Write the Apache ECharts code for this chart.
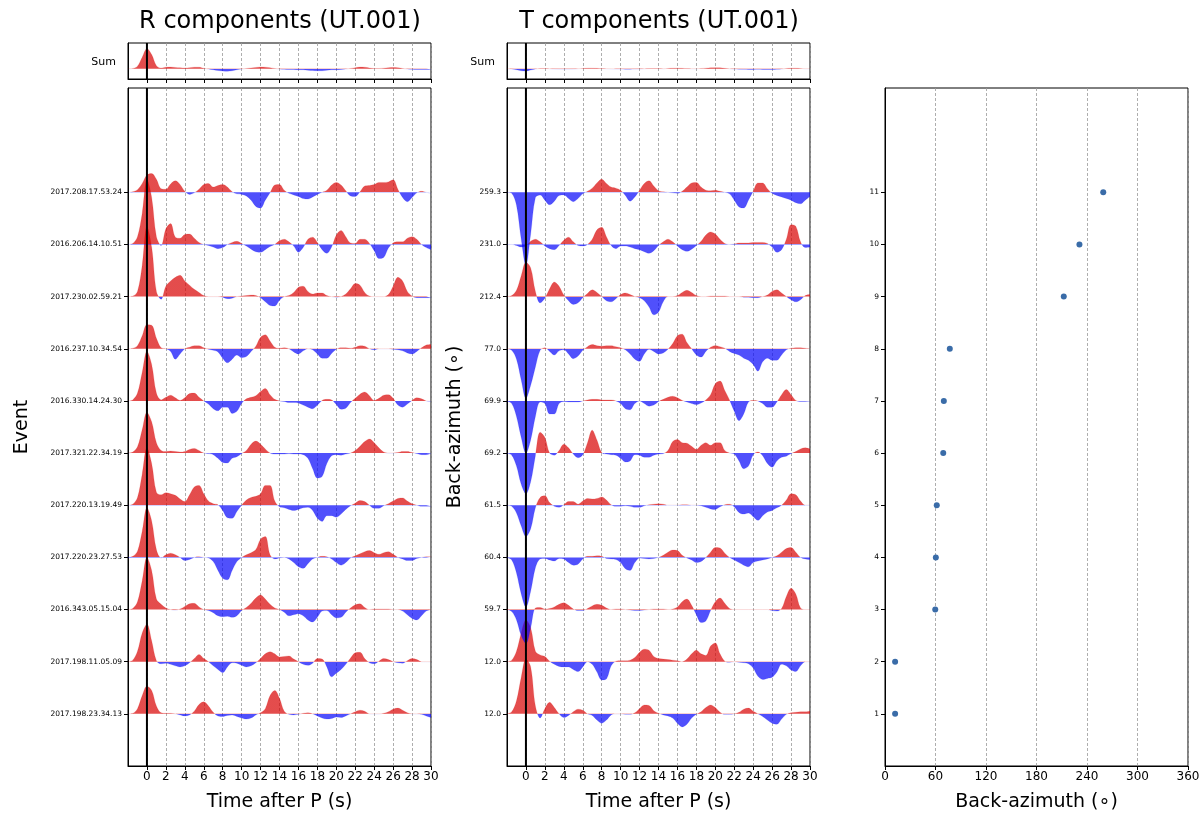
<!DOCTYPE html>
<html>
<head>
<meta charset="utf-8">
<title>R / T components (UT.001)</title>
<script src="https://cdn.jsdelivr.net/npm/echarts@6.0.0/dist/echarts.min.js"></script>
<style>
  html, body { margin: 0; padding: 0; background: #fff; }
  #chart { width: 1203px; height: 818px; }
</style>
</head>
<body>
<div id="chart"></div>
<script>
// sample times (s after P), every 0.5 s
const times = [-2,-1.5,-1,-0.5,0,0.5,1,1.5,2,2.5,3,3.5,4,4.5,5,5.5,6,6.5,7,7.5,8,8.5,9,9.5,10,10.5,11,11.5,12,12.5,13,13.5,14,14.5,15,15.5,16,16.5,17,17.5,18,18.5,19,19.5,20,20.5,21,21.5,22,22.5,23,23.5,24,24.5,25,25.5,26,26.5,27,27.5,28,28.5,29,29.5,30];

// events, bottom (1) to top (11)
const events = ["2017.198.23.34.13","2017.198.11.05.09","2016.343.05.15.04","2017.220.23.27.53","2017.220.13.19.49","2017.321.22.34.19","2016.330.14.24.30","2016.237.10.34.54","2017.230.02.59.21","2016.206.14.10.51","2017.208.17.53.24"];
const baz = [12.0, 12.0, 59.7, 60.4, 61.5, 69.2, 69.9, 77.0, 212.4, 231.0, 259.3];
const bazLabels = ["12.0","12.0","59.7","60.4","61.5","69.2","69.9","77.0","212.4","231.0","259.3"];

// R component traces (amplitude in units of trace spacing)
const r01 = [0,0.01,0.1,0.35,0.53,0.45,0.15,0.02,0.01,0.01,0,-0.02,-0.04,-0.02,0.05,0.18,0.23,0.15,0.03,-0.04,-0.05,-0.03,-0.02,-0.05,-0.08,-0.1,-0.08,-0.02,0.02,0.1,0.35,0.45,0.3,0.05,-0.01,-0.02,-0.01,0.01,0.02,0,-0.04,-0.08,-0.1,-0.09,-0.06,-0.07,-0.04,0,0.04,0.07,0.05,0,0,0,0.01,0.04,0.09,0.11,0.07,0.02,0,0,-0.01,-0.04,-0.07];
const r02 = [0,0.03,0.2,0.55,0.72,0.4,0.02,-0.04,-0.03,-0.05,-0.08,-0.1,-0.08,-0.02,0.06,0.14,0.06,0,-0.08,-0.15,-0.21,-0.1,-0.02,-0.03,-0.07,-0.1,-0.08,-0.02,0.06,0.15,0.19,0.15,0.09,0.1,0.11,0.05,0,-0.05,-0.07,-0.03,0.06,0.05,-0.1,-0.29,-0.22,-0.15,-0.05,0.07,0.17,0.18,0.06,-0.02,-0.04,0.01,0.06,0.04,0,-0.02,-0.03,0.02,0.06,0.04,0,0,0];
const r03 = [0,0.02,0.15,0.55,1.0,0.75,0.2,0.1,0.03,0,-0.01,0.01,0.06,0.11,0.12,0.05,0,-0.02,-0.06,-0.12,-0.14,-0.13,-0.15,-0.12,-0.02,0.04,0.12,0.22,0.28,0.2,0.1,0.03,0,-0.05,-0.12,-0.1,-0.08,-0.12,-0.2,-0.24,-0.15,-0.03,-0.02,-0.1,-0.16,-0.15,-0.05,0.03,0.09,0.11,0.04,0,0.01,0.01,0.01,0.01,0,0,-0.03,-0.1,-0.17,-0.2,-0.12,-0.03,0];
const r04 = [0,0.02,0.12,0.5,0.95,0.7,0.15,-0.01,0.05,0.08,0.05,0,-0.06,-0.04,0,0.01,0,-0.01,-0.08,-0.25,-0.4,-0.43,-0.25,-0.08,0,0.05,0.09,0.15,0.35,0.4,0.05,-0.03,-0.01,0,-0.03,-0.1,-0.18,-0.21,-0.12,-0.03,0,0.02,0.01,-0.03,-0.1,-0.15,-0.1,-0.01,0.03,0.07,0.11,0.13,0.09,0.06,0.09,0.11,0.06,0,-0.03,-0.06,-0.06,-0.02,0,0.01,0.01];
const r05 = [0,0.02,0.15,0.6,1.1,0.8,0.25,0.2,0.24,0.22,0.19,0.12,0.07,0.2,0.35,0.38,0.22,0.08,0.03,0.01,-0.1,-0.24,-0.25,-0.12,0,0.1,0.15,0.17,0.22,0.38,0.38,0.08,-0.03,-0.05,-0.08,-0.1,-0.08,-0.05,-0.04,-0.1,-0.25,-0.31,-0.2,-0.2,-0.23,-0.17,-0.08,-0.01,0.04,0.09,0.07,0,-0.06,-0.06,-0.01,0.03,0.08,0.13,0.14,0.08,0.03,0,-0.02,-0.02,-0.02];
const r06 = [0,0.02,0.12,0.45,0.78,0.6,0.2,0.05,0.03,0.04,0.03,0.02,0.03,0.07,0.09,0.05,0,-0.01,-0.03,-0.1,-0.18,-0.19,-0.1,-0.07,-0.01,0.05,0.17,0.23,0.17,0.08,0,-0.02,-0.02,-0.02,-0.01,-0.02,-0.02,-0.03,-0.1,-0.3,-0.48,-0.45,-0.2,-0.05,-0.03,-0.04,-0.02,0,0.05,0.13,0.22,0.27,0.2,0.1,0.02,0,0,0.01,0.03,0.03,0.01,-0.01,-0.03,-0.03,-0.01];
const r07 = [0,0.02,0.15,0.55,0.95,0.7,0.15,0.02,0.07,0.11,0.06,0.01,0.06,0.14,0.15,0.07,0,-0.06,-0.15,-0.19,-0.12,-0.12,-0.24,-0.2,-0.05,0.04,0.07,0.1,0.18,0.24,0.12,0.03,0,-0.01,-0.03,-0.03,-0.04,-0.08,-0.12,-0.15,-0.08,0.01,0.03,0.02,-0.07,-0.16,-0.14,-0.03,0.05,0.13,0.17,0.1,0.01,0.05,0.11,0.12,0.05,-0.08,-0.12,-0.06,0.01,0.06,0.04,0,-0.01];
const r08 = [0,0.01,0.06,0.25,0.46,0.45,0.2,0.02,0,-0.05,-0.2,-0.1,0,0.03,0.06,0.06,0.02,-0.01,-0.03,-0.06,-0.18,-0.27,-0.2,-0.12,-0.17,-0.15,-0.05,0.05,0.22,0.27,0.15,0.03,0.01,0.02,0,-0.06,-0.1,-0.04,0,-0.02,-0.1,-0.18,-0.18,-0.09,-0.01,0.02,0.02,0.01,0.03,0.06,0.05,0,-0.02,0,0,0,-0.01,-0.02,-0.04,-0.08,-0.1,-0.05,0.02,0.07,0.08];
const r09 = [0,0.01,0.1,0.6,1.35,0.95,0.1,-0.05,0.2,0.3,0.37,0.41,0.3,0.22,0.14,0.08,0.02,0,0,0,-0.01,-0.04,-0.03,0,0.01,0.02,0.03,0.02,-0.02,-0.1,-0.17,-0.18,-0.07,0,0.02,0.08,0.18,0.2,0.1,0.05,0.07,0.07,0.02,0,-0.01,0,0.05,0.15,0.25,0.22,0.08,0.01,0,0,0,0.04,0.2,0.37,0.3,0.1,0.01,-0.02,-0.02,-0.02,-0.02];
const r10 = [0,0.02,0.15,0.6,1.25,0.9,0.15,-0.02,0.3,0.4,0.14,0.12,0.19,0.2,0.12,0.04,0,-0.02,-0.05,-0.08,-0.06,0,0.04,0.06,0.02,-0.03,-0.09,-0.14,-0.15,-0.1,-0.04,0,0.07,0.1,0.05,-0.03,-0.15,-0.06,0.1,0.14,0.04,-0.1,-0.17,-0.05,0.18,0.27,0.15,0.03,0.02,0.1,0.1,0.02,-0.12,-0.27,-0.25,-0.07,0.03,0.05,0.05,0.12,0.15,0.1,0,-0.06,-0.1];
const r11 = [0,0.01,0.05,0.17,0.33,0.36,0.25,0.07,0.06,0.16,0.22,0.15,0.02,-0.04,-0.01,0.06,0.15,0.17,0.1,0.13,0.15,0.1,0.01,-0.03,-0.04,-0.07,-0.15,-0.27,-0.3,-0.15,-0.01,0.14,0.15,0.04,-0.02,-0.05,-0.08,-0.12,-0.13,-0.09,-0.04,0,0.04,0.14,0.19,0.14,0.03,-0.07,-0.08,0.01,0.12,0.13,0.15,0.19,0.19,0.2,0.24,0.06,-0.1,-0.18,-0.1,-0.01,0.02,0,-0.02];

// T component traces
const t01 = [0,0.04,0.25,0.7,1.05,0.9,0.15,-0.08,0.1,0.22,0.12,0,-0.07,-0.03,0.04,0.09,0.07,0,-0.03,-0.12,-0.18,-0.12,-0.02,0,0,-0.01,-0.01,0.02,0.1,0.17,0.16,0.06,0.01,-0.02,-0.04,-0.08,-0.18,-0.25,-0.2,-0.08,-0.01,0.04,0.12,0.17,0.12,0.03,-0.01,-0.01,0,0.03,0.09,0.11,0.05,0,-0.05,-0.12,-0.18,-0.2,-0.1,-0.01,0.02,0.03,0.04,0.04,0.05];
const t02 = [0,0.03,0.2,0.55,0.8,0.65,0.2,0.13,0.1,0.01,-0.05,-0.09,-0.1,-0.1,-0.15,-0.19,-0.1,0,-0.05,-0.2,-0.35,-0.33,-0.08,0.01,0.02,0.02,0.03,0.08,0.18,0.24,0.22,0.1,0.06,0.05,0.04,0.03,0.02,0,0.05,0.15,0.22,0.15,0.12,0.3,0.36,0.15,0.01,-0.01,0,-0.01,-0.02,-0.04,-0.12,-0.28,-0.34,-0.32,-0.3,-0.2,-0.05,-0.08,-0.16,-0.19,-0.08,0,0];
const t03 = [0,-0.04,-0.2,-0.5,-0.65,-0.35,0.03,0.04,0.01,0.02,0.05,0.1,0.13,0.08,0.01,-0.02,-0.02,0.02,0.07,0.1,0.08,0.03,0,0.01,0.01,0,-0.01,-0.02,-0.02,-0.01,0,0.01,0.01,0.01,0,0.01,0.05,0.15,0.2,0.08,-0.1,-0.25,-0.22,-0.02,0.15,0.22,0.12,0.02,0,0,0,0,0,0,0,0,-0.02,-0.03,0.02,0.25,0.41,0.3,0.03,0,0];
const t04 = [0,-0.05,-0.3,-0.7,-0.95,-0.65,-0.2,-0.03,-0.02,-0.05,-0.07,-0.02,-0.03,-0.1,-0.15,-0.13,-0.03,0.02,0.02,0.03,0.02,-0.02,-0.03,-0.04,-0.1,-0.22,-0.25,-0.1,-0.01,-0.02,-0.03,-0.02,0,0.04,0.1,0.14,0.13,0.04,-0.01,-0.05,-0.1,-0.08,0,0.1,0.19,0.18,0.08,0,-0.05,-0.1,-0.15,-0.18,-0.1,-0.07,-0.05,-0.03,0,0.03,0.1,0.17,0.19,0.1,0,-0.03,-0.04];
const t05 = [0,-0.02,-0.15,-0.4,-0.6,-0.45,-0.05,0.15,0.18,0.05,-0.02,-0.04,0.01,0.07,0.07,0.02,0.08,0.13,0.12,0.13,0.16,0.1,0.01,-0.02,-0.02,-0.01,-0.02,-0.04,-0.04,-0.01,0.01,0.02,0.03,0.02,0,0,0,0.01,0.01,0,0,-0.01,-0.04,-0.07,-0.08,-0.03,0.01,0.02,-0.03,-0.14,-0.17,-0.15,-0.22,-0.29,-0.2,-0.13,-0.1,-0.05,0,0.1,0.22,0.2,0.08,0,0];
const t06 = [0,-0.04,-0.25,-0.6,-0.78,-0.55,-0.05,0.4,0.3,0,-0.04,0.05,0.17,0.1,-0.02,-0.09,-0.03,0.2,0.44,0.25,0.01,-0.02,-0.03,-0.04,-0.1,-0.17,-0.15,-0.03,-0.04,-0.08,-0.08,-0.04,-0.02,-0.01,0.05,0.22,0.26,0.2,0.19,0.13,0.07,0.15,0.2,0.15,0.2,0.2,0.05,0,-0.02,-0.15,-0.3,-0.25,-0.03,0.02,-0.05,-0.2,-0.27,-0.15,-0.08,-0.06,-0.01,0.03,0.08,0.1,0.08];
const t07 = [0,-0.05,-0.3,-0.7,-1.0,-0.75,-0.3,-0.02,-0.05,-0.25,-0.25,-0.05,-0.01,-0.02,-0.02,-0.02,0,0.02,0.03,0.03,0.02,0.02,0.02,0,-0.05,-0.15,-0.17,-0.05,0,-0.05,-0.1,-0.08,-0.01,0.03,0.07,0.09,0.06,0.01,-0.02,-0.05,-0.07,-0.04,0.02,0.12,0.33,0.38,0.2,0.02,-0.2,-0.38,-0.25,-0.02,0.01,0,-0.05,-0.12,-0.12,-0.02,0.12,0.22,0.12,0.01,-0.01,-0.01,-0.01];
const t08 = [0,-0.03,-0.2,-0.6,-0.95,-0.7,-0.35,-0.03,0.02,-0.05,-0.12,-0.04,-0.02,-0.1,-0.19,-0.14,-0.03,0.04,0.08,0.06,0.05,0.06,0.06,0.04,0.02,-0.02,-0.1,-0.2,-0.24,-0.1,-0.01,-0.05,-0.1,-0.08,-0.01,0.1,0.25,0.28,0.12,0,-0.12,-0.16,-0.05,0.03,0.06,0.04,0.01,-0.05,-0.09,-0.12,-0.18,-0.22,-0.3,-0.43,-0.25,-0.18,-0.22,-0.22,-0.12,-0.02,0.01,0.02,0.02,0.01,0];
const t09 = [0,0.02,0.12,0.4,0.66,0.55,0.1,-0.12,-0.03,0.15,0.28,0.2,0.03,-0.08,-0.15,-0.12,-0.02,0.06,0.13,0.08,0,-0.08,-0.1,-0.04,0.04,0.07,0.04,0,-0.02,-0.08,-0.2,-0.35,-0.3,-0.1,0,0,0.02,0.08,0.12,0.08,0.02,0,0,0.01,0.01,0.01,0.01,0,0,0,-0.01,-0.01,-0.02,-0.02,0,0.03,0.1,0.13,0.07,0,-0.06,-0.1,-0.06,0.02,0.04];
const t10 = [0,0,-0.02,-0.05,-0.03,0.06,0.1,0.05,-0.03,-0.08,-0.1,-0.02,0.08,0.14,0.05,-0.02,-0.03,0,0.1,0.28,0.33,0.15,-0.02,-0.08,-0.03,-0.03,-0.05,-0.08,-0.1,-0.14,-0.17,-0.12,-0.02,0.05,0.1,0.05,-0.03,-0.1,-0.13,-0.09,-0.02,0.06,0.18,0.24,0.2,0.1,0.02,0,0.01,0.03,0.03,0.03,0.04,0.04,0.04,0.02,-0.05,-0.15,-0.1,0.1,0.38,0.35,0.05,-0.06,-0.05];
const t11 = [0,-0.02,-0.25,-0.9,-1.4,-0.8,-0.1,-0.05,-0.15,-0.24,-0.17,-0.06,-0.05,-0.12,-0.18,-0.12,-0.03,0.02,0.08,0.18,0.25,0.17,0.1,0.08,0.04,-0.06,-0.17,-0.09,0.04,0.17,0.22,0.12,0.03,0.01,0,-0.01,-0.02,0.02,0.1,0.18,0.19,0.1,0.04,0.03,0.04,0.02,0,-0.03,-0.15,-0.28,-0.3,-0.15,0.02,0.18,0.18,0.07,-0.02,-0.06,-0.09,-0.12,-0.15,-0.2,-0.22,-0.15,-0.08];

// stacked sums
const rSum = [0,0.01,0.1,0.45,0.78,0.55,0.12,0.03,0.06,0.065,0.05,0.04,0.03,0.04,0.06,0.06,0.02,-0.01,-0.04,-0.07,-0.09,-0.1,-0.08,-0.04,-0.01,0.01,0.03,0.05,0.065,0.06,0.04,0.01,-0.01,-0.02,-0.03,-0.03,-0.04,-0.04,-0.06,-0.07,-0.08,-0.08,-0.06,-0.04,-0.04,-0.03,-0.01,0.01,0.04,0.065,0.06,0.03,0.01,0.01,0.02,0.04,0.05,0.04,0.01,-0.01,-0.02,-0.03,-0.03,-0.03,-0.02];
const tSum = [0,-0.01,-0.04,-0.08,-0.09,-0.05,-0.01,0.01,0.01,0,-0.01,-0.015,-0.015,-0.015,-0.01,0,0.01,0.02,0.02,0.015,0.005,0,-0.005,-0.01,-0.015,-0.02,-0.02,-0.015,-0.01,0,0.005,0.01,0.005,0,0.01,0.02,0.02,0.015,0.005,0,0,0.01,0.02,0.035,0.04,0.035,0.015,0,-0.015,-0.02,-0.025,-0.03,-0.03,-0.025,-0.03,-0.03,-0.03,-0.02,-0.01,0.01,0.02,0.02,0.01,0,0];

const rTraces = [r01, r02, r03, r04, r05, r06, r07, r08, r09, r10, r11];
const tTraces = [t01, t02, t03, t04, t05, t06, t07, t08, t09, t10, t11];
const timeTicks = [0,2,4,6,8,10,12,14,16,18,20,22,24,26,28,30];
const traceTicks = [1,2,3,4,5,6,7,8,9,10,11];

const RED = 'rgb(216,0,0)';
const BLUE = 'rgb(5,5,250)';
const FONT = 'DejaVu Sans';

var series = [];
var visualMaps = [];

// one filled waveform: red above its baseline, blue below
function addTrace(vals, base, axisIdx) {
  visualMaps.push({
    type: 'piecewise', show: false, seriesIndex: series.length, dimension: 1,
    pieces: [{ lt: base, color: BLUE }, { gte: base, lt: base + 50, color: RED }],
    outOfRange: { color: RED }
  });
  series.push({
    type: 'line', xAxisIndex: axisIdx, yAxisIndex: axisIdx,
    data: times.map(function (t, i) { return [t, base + vals[i]]; }),
    smooth: 0.35, symbol: 'none', silent: true,
    lineStyle: { width: 0.4, opacity: 0.35 },
    areaStyle: { origin: base, opacity: 0.7 },
    z: 2
  });
}

function addZeroLine(axisIdx, lo, hi) {
  series.push({
    type: 'line', xAxisIndex: axisIdx, yAxisIndex: axisIdx,
    data: [[0, lo], [0, hi]], symbol: 'none', silent: true,
    lineStyle: { color: '#000', width: 2 }, z: 5
  });
}

addTrace(rSum, 0, 0);
addZeroLine(0, -0.4, 1.0);
rTraces.forEach(function (v, i) { addTrace(v, i + 1, 1); });
addZeroLine(1, 0, 13);
addTrace(tSum, 0, 2);
addZeroLine(2, -0.4, 1.0);
tTraces.forEach(function (v, i) { addTrace(v, i + 1, 3); });
addZeroLine(3, 0, 13);

series.push({
  type: 'scatter', xAxisIndex: 4, yAxisIndex: 4,
  data: baz.map(function (b, i) { return [b, i + 1]; }),
  symbolSize: 6, itemStyle: { color: '#3a6ca8', opacity: 1 }, silent: true, z: 3
});

var gridLine = { show: true, lineStyle: { color: '#999', width: 0.8, type: [3, 2] } };
var blackLine = { show: true, onZero: false, lineStyle: { color: '#000', width: 1 } };

function timeAxis(g, withLabels) {
  return {
    gridIndex: g, type: 'value', min: -2, max: 30, interval: 2,
    axisLine: blackLine,
    axisTick: { customValues: timeTicks, length: 4, lineStyle: { color: '#000' } },
    axisLabel: { show: withLabels, customValues: timeTicks, fontSize: 12, color: '#000', margin: 5 },
    splitLine: gridLine,
    name: withLabels ? 'Time after P (s)' : '',
    nameLocation: 'middle', nameGap: 27,
    nameTextStyle: { fontSize: 19, color: '#000' }
  };
}

function sumAxis(g) {
  return {
    gridIndex: g, type: 'value', min: -0.4, max: 1.0,
    axisLine: blackLine, axisTick: { show: false }, axisLabel: { show: false },
    splitLine: { show: false },
    name: 'Sum', nameLocation: 'middle', nameRotate: 0, nameGap: 12,
    nameTextStyle: { fontSize: 11, color: '#000', verticalAlign: 'top', padding: [-4, 0, 0, 0] }
  };
}

function traceAxis(g, labels, name, gap) {
  return {
    gridIndex: g, type: 'value', min: 0, max: 13, interval: 1,
    axisLine: blackLine,
    axisTick: { customValues: traceTicks, length: 4, lineStyle: { color: '#000' } },
    axisLabel: {
      customValues: traceTicks, fontSize: 7.5, color: '#000', margin: 6,
      formatter: function (v) { return labels[v - 1] || ''; }
    },
    splitLine: { show: false },
    name: name, nameLocation: 'middle', nameRotate: 90, nameGap: gap,
    nameTextStyle: { fontSize: 19, color: '#000' }
  };
}

var frame = { show: true, borderColor: '#000', borderWidth: 1, backgroundColor: 'transparent' };

var option = {
  animation: false,
  backgroundColor: '#fff',
  textStyle: { fontFamily: FONT },
  grid: [
    Object.assign({ left: 128, top: 43, width: 303, height: 36 }, frame),
    Object.assign({ left: 128, top: 88, width: 303, height: 678 }, frame),
    Object.assign({ left: 507, top: 43, width: 303, height: 36 }, frame),
    Object.assign({ left: 507, top: 88, width: 303, height: 678 }, frame),
    Object.assign({ left: 885, top: 88, width: 303, height: 678 }, frame)
  ],
  xAxis: [
    timeAxis(0, false),
    timeAxis(1, true),
    timeAxis(2, false),
    timeAxis(3, true),
    {
      gridIndex: 4, type: 'value', min: 0, max: 360, interval: 60,
      axisLine: blackLine,
      axisTick: { length: 4, lineStyle: { color: '#000' } },
      axisLabel: { fontSize: 12, color: '#000', margin: 5 },
      splitLine: gridLine,
      name: 'Back-azimuth (\u2218)', nameLocation: 'middle', nameGap: 27,
      nameTextStyle: { fontSize: 19, color: '#000' }
    }
  ],
  yAxis: [
    sumAxis(0),
    traceAxis(1, events, 'Event', 96),
    sumAxis(2),
    traceAxis(3, bazLabels, 'Back-azimuth (\u2218)', 42),
    traceAxis(4, traceTicks.map(String), '', 0)
  ],
  visualMap: visualMaps,
  graphic: [
    { type: 'text', x: 280, y: 22, style: { text: 'R components (UT.001)', font: '24px "DejaVu Sans"', fill: '#000', align: 'center', verticalAlign: 'middle' } },
    { type: 'text', x: 659, y: 22, style: { text: 'T components (UT.001)', font: '24px "DejaVu Sans"', fill: '#000', align: 'center', verticalAlign: 'middle' } }
  ],
  series: series
};

var chart = echarts.init(document.getElementById('chart'));
chart.setOption(option);
</script>
</body>
</html>
